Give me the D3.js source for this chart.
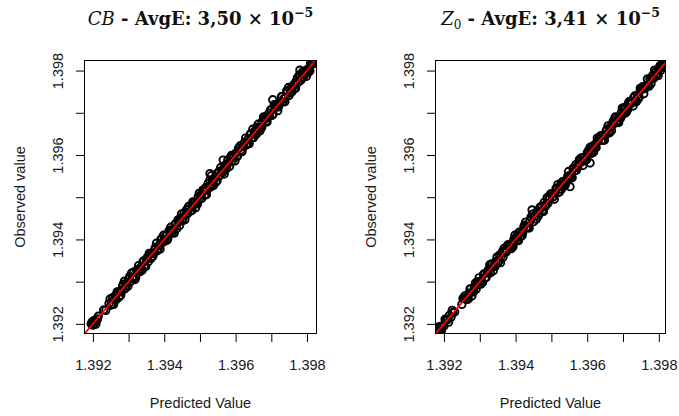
<!DOCTYPE html>
<html><head><meta charset="utf-8">
<script src="https://cdn.jsdelivr.net/npm/d3@7"></script>
<style>body{margin:0;background:#fff}svg{display:block}</style>
</head><body>
<svg id="c" width="679" height="416"></svg>
<script>
// ---- data ----
const cbPredicted = [1.39195,1.39200,1.39205,1.39210,1.39215,1.39203,1.39198,1.39208,1.39213,1.39230,1.39236,
1.39245,1.39250,1.39255,1.39260,1.39265,1.39270,1.39275,1.39280,1.39285,1.39290,
1.39295,1.39300,1.39305,1.39310,1.39315,1.39320,1.39325,1.39330,1.39335,1.39340,
1.39345,1.39350,1.39355,1.39360,1.39365,1.39370,1.39375,1.39380,1.39385,1.39390,
1.39395,1.39400,1.39405,1.39410,1.39415,1.39420,1.39425,1.39430,1.39435,1.39440,
1.39445,1.39450,1.39455,1.39460,1.39465,1.39470,1.39475,1.39480,1.39485,1.39490,
1.39495,1.39500,1.39505,1.39510,1.39515,1.39520,1.39525,1.39530,1.39535,1.39540,
1.39545,1.39550,1.39555,1.39560,1.39565,1.39570,1.39575,1.39580,1.39585,1.39590,
1.39595,1.39600,1.39605,1.39610,1.39615,1.39620,1.39625,1.39630,1.39635,1.39640,
1.39645,1.39650,1.39655,1.39660,1.39665,1.39670,1.39675,1.39680,1.39685,1.39690,
1.39695,1.39700,1.39705,1.39710,1.39715,1.39720,1.39725,1.39730,1.39735,1.39740,
1.39745,1.39750,1.39755,1.39760,1.39765,1.39770,1.39775,1.39780,1.39785,1.39790,
1.39795,1.39800,1.39805,1.39810,1.39815,1.39820,
1.39248,1.39258,1.39268,1.39278,1.39288,1.39298,1.39308,1.39318,1.39328,1.39338,
1.39348,1.39358,1.39368,1.39378,1.39388,1.39398,1.39408,1.39418,1.39428,1.39438,
1.39448,1.39458,1.39468,1.39478,1.39488,1.39498,1.39508,1.39518,1.39528,1.39538,
1.39548,1.39558,1.39568,1.39578,1.39588,1.39598,1.39608,1.39618,1.39628,1.39638,
1.39648,1.39658,1.39668,1.39678,1.39688,1.39698,1.39708,1.39718,1.39728,1.39738,
1.39748,1.39758,1.39768,1.39778,1.39788,1.39798,1.39808,1.39818,
1.39253,1.39263,1.39273,1.39283,1.39293,1.39303,1.39313,1.39323,1.39333,1.39343,
1.39353,1.39363,1.39373,1.39383,1.39393,1.39403,1.39413,1.39423,1.39433,1.39443,
1.39453,1.39463,1.39473,1.39483,1.39493,1.39503,1.39513,1.39523,1.39533,1.39543,
1.39553,1.39563,1.39573,1.39583,1.39593,1.39603,1.39613,1.39623,1.39633,1.39643,
1.39653,1.39663,1.39673,1.39683,1.39693,1.39703,1.39713,1.39723,1.39733,1.39743,
1.39753,1.39763,1.39773,1.39783,1.39793,1.39803,1.39813,
1.39528,1.39532,1.39565,1.39704,1.39780];
const cbObserved = [1.39200,1.39197,1.39209,1.39206,1.39218,1.39204,1.39205,1.39199,1.39212,1.39233,1.39232,
1.39248,1.39244,1.39262,1.39258,1.39257,1.39275,1.39276,1.39276,1.39294,1.39283,
1.39297,1.39306,1.39300,1.39309,1.39323,1.39311,1.39329,1.39327,1.39335,1.39347,
1.39339,1.39353,1.39347,1.39365,1.39367,1.39366,1.39381,1.39373,1.39386,1.39399,
1.39393,1.39395,1.39409,1.39402,1.39422,1.39420,1.39422,1.39436,1.39426,1.39442,
1.39450,1.39444,1.39463,1.39459,1.39461,1.39473,1.39468,1.39489,1.39486,1.39485,
1.39501,1.39498,1.39497,1.39514,1.39522,1.39517,1.39525,1.39524,1.39540,1.39542,
1.39536,1.39558,1.39551,1.39563,1.39564,1.39576,1.39568,1.39581,1.39594,1.39585,
1.39593,1.39604,1.39597,1.39617,1.39612,1.39620,1.39630,1.39624,1.39637,1.39648,
1.39641,1.39641,1.39658,1.39666,1.39664,1.39663,1.39679,1.39689,1.39680,1.39691,
1.39692,1.39707,1.39697,1.39712,1.39720,1.39714,1.39725,1.39738,1.39733,1.39736,
1.39751,1.39741,1.39758,1.39761,1.39758,1.39775,1.39772,1.39789,1.39784,1.39784,
1.39799,1.39802,1.39800,1.39817,1.39815,1.39817,
1.39259,1.39246,1.39276,1.39268,1.39301,1.39289,1.39320,1.39305,1.39338,1.39327,
1.39336,1.39367,1.39360,1.39391,1.39377,1.39410,1.39398,1.39429,1.39415,1.39446,
1.39460,1.39447,1.39478,1.39469,1.39475,1.39509,1.39517,1.39506,1.39541,1.39528,
1.39539,1.39570,1.39555,1.39588,1.39599,1.39586,1.39616,1.39608,1.39640,1.39627,
1.39661,1.39649,1.39657,1.39690,1.39678,1.39707,1.39719,1.39705,1.39738,1.39726,
1.39760,1.39750,1.39758,1.39789,1.39797,1.39786,1.39799,1.39826,
1.39246,1.39267,1.39263,1.39289,1.39290,1.39312,1.39307,1.39325,1.39324,1.39350,
1.39358,1.39355,1.39376,1.39378,1.39403,1.39399,1.39420,1.39416,1.39437,1.39433,
1.39450,1.39471,1.39467,1.39488,1.39484,1.39506,1.39505,1.39533,1.39529,1.39549,
1.39560,1.39558,1.39575,1.39573,1.39599,1.39596,1.39622,1.39620,1.39627,1.39651,
1.39649,1.39673,1.39665,1.39686,1.39699,1.39694,1.39718,1.39721,1.39726,1.39752,
1.39748,1.39767,1.39783,1.39777,1.39796,1.39795,1.39818,
1.39556,1.39551,1.39588,1.39731,1.39801];

const z0Predicted = [1.39177,1.39180,1.39185,1.39190,1.39195,1.39200,1.39205,1.39210,
1.39215,1.39220,1.39225,1.39230,1.39183,1.39188,1.39193,1.39203,1.39213,1.39223,
1.39250,1.39255,1.39260,1.39265,1.39270,1.39275,1.39280,1.39285,1.39290,1.39295,
1.39300,1.39305,1.39310,1.39315,1.39320,1.39325,1.39330,1.39335,1.39340,1.39345,
1.39350,1.39355,1.39360,1.39365,1.39370,1.39375,1.39380,1.39385,1.39390,1.39395,
1.39400,1.39405,1.39410,1.39415,1.39420,1.39425,1.39430,1.39435,1.39440,1.39445,
1.39450,1.39455,1.39460,1.39465,1.39470,1.39475,1.39480,1.39485,1.39490,1.39495,
1.39500,1.39505,1.39510,1.39515,1.39520,1.39525,1.39530,1.39535,1.39540,1.39545,
1.39550,1.39555,1.39560,1.39565,1.39570,1.39575,1.39580,1.39585,1.39590,1.39595,
1.39600,1.39605,1.39610,1.39615,1.39620,1.39625,1.39630,1.39635,1.39640,1.39645,
1.39650,1.39655,1.39660,1.39665,1.39670,1.39675,1.39680,1.39685,1.39690,1.39695,
1.39700,1.39705,1.39710,1.39715,1.39720,1.39725,1.39730,1.39735,1.39740,1.39745,
1.39750,1.39755,1.39760,1.39765,1.39770,1.39775,1.39780,1.39785,1.39790,1.39795,
1.39800,1.39805,1.39810,1.39815,
1.39258,1.39268,1.39278,1.39288,1.39298,1.39308,1.39318,1.39328,1.39338,1.39348,
1.39358,1.39368,1.39378,1.39388,1.39398,1.39408,1.39418,1.39428,1.39438,1.39448,
1.39458,1.39468,1.39478,1.39488,1.39498,1.39508,1.39518,1.39528,1.39538,1.39548,
1.39558,1.39568,1.39578,1.39588,1.39598,1.39608,1.39618,1.39628,1.39638,1.39648,
1.39658,1.39668,1.39678,1.39688,1.39698,1.39708,1.39718,1.39728,1.39738,1.39748,
1.39758,1.39768,1.39778,1.39788,1.39798,1.39808,
1.39253,1.39263,1.39273,1.39283,1.39293,1.39303,1.39313,1.39323,1.39333,1.39343,
1.39353,1.39363,1.39373,1.39383,1.39393,1.39403,1.39413,1.39423,1.39433,1.39443,
1.39453,1.39463,1.39473,1.39483,1.39493,1.39503,1.39513,1.39523,1.39533,1.39543,
1.39553,1.39563,1.39573,1.39583,1.39593,1.39603,1.39613,1.39623,1.39633,1.39643,
1.39653,1.39663,1.39673,1.39683,1.39693,1.39703,1.39713,1.39723,1.39733,1.39743,
1.39753,1.39763,1.39773,1.39783,1.39793,1.39803,1.39813,
1.39608,1.39552,1.39446];
const z0Observed = [1.39176,1.39182,1.39182,1.39194,1.39194,1.39195,1.39208,1.39210,
1.39220,1.39216,1.39227,1.39228,1.39192,1.39181,1.39184,1.39211,1.39204,1.39232,
1.39246,1.39261,1.39259,1.39258,1.39273,1.39283,1.39275,1.39286,1.39282,1.39300,
1.39300,1.39302,1.39317,1.39309,1.39322,1.39329,1.39321,1.39341,1.39338,1.39348,
1.39345,1.39363,1.39361,1.39358,1.39374,1.39372,1.39386,1.39384,1.39382,1.39400,
1.39402,1.39399,1.39417,1.39415,1.39416,1.39434,1.39428,1.39428,1.39443,1.39450,
1.39442,1.39456,1.39466,1.39462,1.39474,1.39469,1.39488,1.39484,1.39485,1.39497,
1.39507,1.39501,1.39510,1.39520,1.39511,1.39528,1.39536,1.39533,1.39533,1.39549,
1.39551,1.39550,1.39568,1.39562,1.39564,1.39577,1.39587,1.39584,1.39594,1.39587,
1.39605,1.39605,1.39606,1.39621,1.39618,1.39618,1.39633,1.39643,1.39635,1.39646,
1.39647,1.39661,1.39652,1.39667,1.39674,1.39674,1.39687,1.39679,1.39690,1.39700,
1.39696,1.39708,1.39703,1.39723,1.39721,1.39723,1.39736,1.39730,1.39742,1.39737,
1.39754,1.39762,1.39757,1.39765,1.39764,1.39780,1.39781,1.39781,1.39796,1.39793,
1.39803,1.39800,1.39812,1.39815,
1.39266,1.39259,1.39266,1.39297,1.39309,1.39298,1.39310,1.39340,1.39326,1.39358,
1.39345,1.39379,1.39387,1.39378,1.39410,1.39397,1.39409,1.39441,1.39427,1.39460,
1.39448,1.39476,1.39466,1.39499,1.39508,1.39495,1.39530,1.39519,1.39528,1.39561,
1.39546,1.39577,1.39589,1.39575,1.39589,1.39618,1.39607,1.39640,1.39646,1.39635,
1.39669,1.39658,1.39690,1.39677,1.39711,1.39700,1.39727,1.39716,1.39727,1.39758,
1.39745,1.39780,1.39769,1.39801,1.39788,1.39816,
1.39260,1.39259,1.39283,1.39277,1.39296,1.39294,1.39319,1.39321,1.39342,1.39336,
1.39348,1.39371,1.39370,1.39388,1.39383,1.39407,1.39406,1.39430,1.39429,1.39453,
1.39456,1.39455,1.39479,1.39478,1.39502,1.39500,1.39521,1.39513,1.39537,1.39537,
1.39546,1.39568,1.39571,1.39593,1.39587,1.39610,1.39604,1.39626,1.39639,1.39635,
1.39657,1.39653,1.39681,1.39680,1.39687,1.39712,1.39708,1.39725,1.39740,1.39734,
1.39758,1.39759,1.39763,1.39789,1.39790,1.39811,1.39808,
1.39581,1.39525,1.39470];

const tickValues = [1.392,1.393,1.394,1.395,1.396,1.397,1.398];
const labeledTicks = ["1.392","1.394","1.396","1.398"];
const cbXDomain = [1.39175, 1.39828];
const z0XDomain = [1.39175, 1.39820];
const yDomain = [1.39176, 1.39825];

const panels = [
  {sym:"CB", sub:null, avg:"3,50", pred:cbPredicted, obs:cbObserved, xdom:cbXDomain, x0:84, x1:317},
  {sym:"Z", sub:"0", avg:"3,41", pred:z0Predicted, obs:z0Observed, xdom:z0XDomain, x0:435, x1:666}
];

const svg = d3.select("#c");
const y0 = 60, y1 = 334;
const axisFont = "'Liberation Sans', Arial, sans-serif";
const fs = 14.5;
const txtCol = "#1a1a1a";
const titleFont = "'DejaVu Serif', 'Liberation Serif', serif";

panels.forEach((p, pi) => {
  const x = d3.scaleLinear().domain(p.xdom).range([p.x0, p.x1]);
  const y = d3.scaleLinear().domain(yDomain).range([y1, y0]);
  const g = svg.append("g");
  const clipId = "clip" + pi;
  svg.append("clipPath").attr("id", clipId).append("rect")
    .attr("x", p.x0).attr("y", y0).attr("width", p.x1 - p.x0).attr("height", y1 - y0);

  const pts = p.pred.map((v, i) => [v, p.obs[i]]);
  g.append("g").attr("clip-path", `url(#${clipId})`)
    .selectAll("circle").data(pts).join("circle")
    .attr("cx", d => x(d[0])).attr("cy", d => y(d[1])).attr("r", 3.7)
    .attr("fill", "none").attr("stroke", "#000").attr("stroke-width", 1.9);

  // red identity line
  const lo = Math.min(p.xdom[0], yDomain[0]), hi = Math.max(p.xdom[1], yDomain[1]);
  g.append("line").attr("clip-path", `url(#${clipId})`)
    .attr("x1", x(lo)).attr("y1", y(lo)).attr("x2", x(hi)).attr("y2", y(hi))
    .attr("stroke", "#ff0000").attr("stroke-width", 1.7);

  // box
  g.append("rect").attr("x", p.x0 + 0.5).attr("y", y0 + 0.5)
    .attr("width", p.x1 - p.x0 - 1).attr("height", y1 - y0 - 1)
    .attr("fill", "none").attr("stroke", "#000").attr("stroke-width", 1);

  // x axis
  const fmt = d => { const s = d3.format(".3f")(d); return labeledTicks.includes(s) ? s : ""; };
  const xa = g.append("g").attr("transform", `translate(0,${y1})`)
    .call(d3.axisBottom(x).tickValues(tickValues).tickSize(8).tickPadding(10).tickFormat(fmt));
  xa.select(".domain").remove();
  xa.selectAll("line").attr("stroke", "#000");
  xa.selectAll("text").attr("font-family", axisFont).attr("font-size", fs).attr("fill", txtCol)
    .attr("dy", null).attr("y", 36);

  // y axis
  const ya = g.append("g").attr("transform", `translate(${p.x0},0)`)
    .call(d3.axisLeft(y).tickValues(tickValues).tickSize(8).tickFormat(fmt));
  ya.select(".domain").remove();
  ya.selectAll("line").attr("stroke", "#000");
  ya.selectAll("text").attr("font-family", axisFont).attr("font-size", fs).attr("fill", txtCol)
    .attr("x", null).attr("dy", null).attr("text-anchor", "middle")
    .attr("transform", "translate(-21,0) rotate(-90)");

  // axis titles
  const cx = (p.x0 + p.x1) / 2, cy = (y0 + y1) / 2;
  g.append("text").attr("x", cx).attr("y", y1 + 74).attr("text-anchor", "middle")
    .attr("font-family", axisFont).attr("font-size", fs).attr("fill", txtCol).text("Predicted Value");
  g.append("text").attr("transform", `translate(${p.x0 - 59},${cy}) rotate(-90)`)
    .attr("text-anchor", "middle").attr("font-family", axisFont).attr("font-size", fs)
    .attr("fill", txtCol).text("Observed value");

  // title
  const t = g.append("text").attr("x", cx).attr("y", 25).attr("text-anchor", "middle")
    .attr("font-family", titleFont).attr("font-size", 18).attr("fill", "#111");
  t.append("tspan").attr("font-style", "italic").text(p.sym);
  if (p.sub) t.append("tspan").attr("font-size", 12).attr("dy", 4).text(p.sub);
  t.append("tspan").attr("font-weight", "bold").attr("dy", p.sub ? -4 : 0).text(" - AvgE: " + p.avg + " \u00d7 10");
  t.append("tspan").attr("font-weight", "bold").attr("font-size", 12.5).attr("dy", -8).text("\u22125");
});
</script>
</body></html>
